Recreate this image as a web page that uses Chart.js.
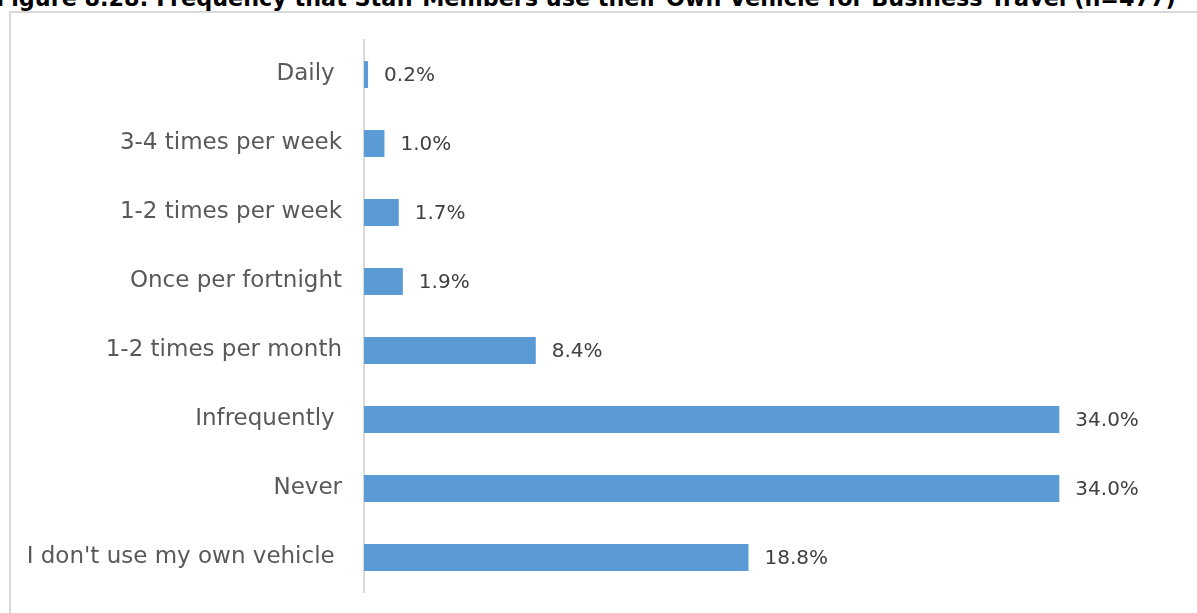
<!DOCTYPE html>
<html>
<head>
<meta charset="utf-8">
<script src="https://cdn.jsdelivr.net/npm/chart.js@4.4.1/dist/chart.umd.min.js"></script>
<style>
  html, body { margin: 0; padding: 0; background: #fff; overflow: hidden; }
  #page { position: relative; width: 1197px; height: 613px; overflow: hidden; }
  #title {
    position: absolute; left: -4px; top: -15px; white-space: nowrap;
    font: bold 22.3px "DejaVu Sans", sans-serif; color: #000;
  }
  #frame {
    position: absolute; left: 9px; top: 11px; width: 1200px; height: 620px;
    border: 2px solid #d9d9d9; box-sizing: border-box;
  }
  #freqChart { position: absolute; left: 0; top: 0; }
</style>
</head>
<body>
<div id="page">
  <div id="title">Figure 8.28: Frequency that Staff Members use their Own Vehicle for Business Travel (n=477)</div>
  <div id="frame"></div>
  <canvas id="freqChart" width="1197" height="613"></canvas>
</div>
<script>
(function () {
    "use strict";

    // Survey answers, top to bottom
    var categories = [
        'Daily ',
        '3-4 times per week',
        '1-2 times per week',
        'Once per fortnight',
        '1-2 times per month',
        'Infrequently ',
        'Never',
        "I don't use my own vehicle "
    ];
    var percentages = [0.2, 1.0, 1.7, 1.9, 8.4, 34.0, 34.0, 18.8];
    var axisMax = 39.9;

    // Write the value at the end of each bar
    var valueLabels = {
        id: 'valueLabels',
        afterDatasetsDraw: function (chart) {
            var ctx = chart.ctx;
            var meta = chart.getDatasetMeta(0);
            ctx.save();
            ctx.font = '20px "DejaVu Sans", sans-serif';
            ctx.fillStyle = '#404040';
            ctx.textAlign = 'left';
            ctx.textBaseline = 'middle';
            meta.data.forEach(function (bar, i) {
                ctx.fillText(percentages[i].toFixed(1) + '%', bar.x + 16, bar.y + 1);
            });
            ctx.restore();
        }
    };

    var ctx = document.getElementById('freqChart').getContext('2d');
    new Chart(ctx, {
        type: 'bar',
        data: {
            labels: categories,
            datasets: [{
                data: percentages,
                backgroundColor: '#5b9bd5',
                borderWidth: 0,
                barPercentage: 0.78,
                categoryPercentage: 0.5
            }]
        },
        options: {
            indexAxis: 'y',
            responsive: false,
            animation: false,
            layout: {
                padding: { left: 0, right: 17, top: 40, bottom: 21 }
            },
            scales: {
                x: {
                    display: false,
                    min: 0,
                    max: axisMax
                },
                y: {
                    grid: { display: false, drawTicks: false },
                    border: { display: true, color: '#d9d9d9', width: 2 },
                    ticks: {
                        color: '#595959',
                        padding: 22,
                        font: { family: 'DejaVu Sans', size: 23 }
                    },
                    afterFit: function (scale) {
                        // fixed label column; no extra room above/below the labels
                        scale.width = 364;
                        scale.paddingTop = 0;
                        scale.paddingBottom = 0;
                    }
                }
            },
            plugins: {
                legend: { display: false },
                tooltip: { enabled: false }
            }
        },
        plugins: [valueLabels]
    });
})();
</script>
</body>
</html>
